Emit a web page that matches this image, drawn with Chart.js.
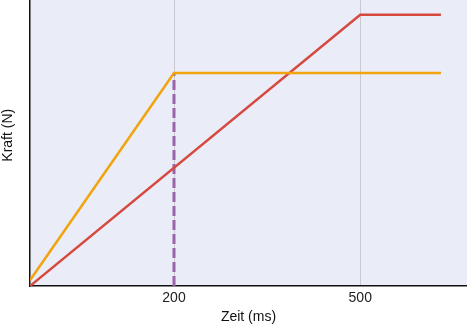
<!DOCTYPE html>
<html><head><meta charset="utf-8">
<script src="https://cdn.jsdelivr.net/npm/chart.js@4/dist/chart.umd.min.js"></script>
<style>html,body{margin:0;padding:0;background:#fff}#wrap{width:467px;height:326px}</style>
</head><body><div id="wrap"><canvas id="c"></canvas></div>
<script>
const xTicks = [200, 500];
const orangeX = [-32, 200, 630];
const orangeY = [2, 74.5, 74.5];
const redX = [-32, 500, 630];
const redY = [0, 94.8, 94.8];
const dashX = [200, 200];
const dashY = [0, 74.5];
const xTitle = 'Zeit (ms)';
const yTitle = '    Kraft (N)';

const toPts = (xs, ys) => xs.map((x, i) => ({x, y: ys[i]}));

const bgPlugin = {
  id: 'bg',
  beforeDraw(chart) {
    const {ctx, chartArea: a} = chart;
    ctx.save();
    ctx.fillStyle = '#eaecf7';
    ctx.fillRect(a.left, a.top, a.right - a.left, a.bottom - a.top);
    ctx.restore();
  }
};

new Chart(document.getElementById('c'), {
  type: 'line',
  data: {
    datasets: [
      {data: toPts(dashX, dashY), borderColor: '#9a64a8', borderWidth: 3, borderDash: [10, 4], pointRadius: 0, order: 3},
      {data: toPts(redX, redY), borderColor: '#d6493f', borderWidth: 2.5, pointRadius: 0, order: 2},
      {data: toPts(orangeX, orangeY), borderColor: '#f2a40c', borderWidth: 2.5, pointRadius: 0, order: 1}
    ]
  },
  plugins: [bgPlugin],
  options: {
    responsive: true, maintainAspectRatio: false, animation: false,
    layout: {padding: 0},
    plugins: {legend: {display: false}, tooltip: {enabled: false}},
    scales: {
      x: {
        type: 'linear', min: -32, max: 672,
        afterBuildTicks: s => { s.ticks = xTicks.map(v => ({value: v})); },
        afterFit: s => { s.height = 40; },
        grid: {display: true, color: '#c9c9cf', lineWidth: 1, drawTicks: false},
        border: {display: true, color: '#111', width: 1.5},
        ticks: {padding: 4, color: '#222', font: {family: 'Liberation Sans', size: 14}},
        title: {display: true, text: xTitle, color: '#111', font: {family: 'Liberation Sans', size: 14}, padding: {top: 0, bottom: 0}}
      },
      y: {
        type: 'linear', min: 0, max: 100,
        afterFit: s => { s.width = 30; },
        grid: {display: false, drawTicks: false},
        border: {display: true, color: '#111', width: 1.5},
        ticks: {display: false},
        title: {display: true, text: yTitle, color: '#111', font: {family: 'Liberation Sans', size: 14}, padding: {top: 0, bottom: 0}}
      }
    }
  }
});
</script></body></html>
